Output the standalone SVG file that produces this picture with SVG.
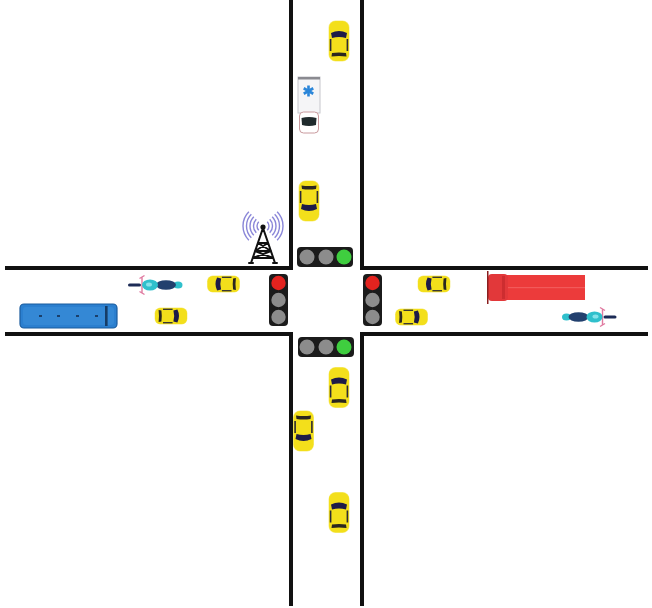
<svg xmlns="http://www.w3.org/2000/svg" width="652" height="608" viewBox="0 0 652 608">
  <style>
    .curb { fill: none; stroke: #111; stroke-width: 4; }
    .housing { fill: #1b1b1b; }
    .off { fill: #8c8c8c; }
    .red { fill: #e3231f; }
    .green { fill: #3fce3f; }
    .wave { fill: none; stroke: #8a86d8; stroke-width: 1.4; }
    .mast { fill: none; stroke: #111; stroke-width: 2; stroke-linecap: round; }
  </style>
  <defs>
    <!-- taxi seen from above, nose pointing up, 20 x 40 -->
    <g id="taxi">
      <rect x="-10.5" y="-20.5" width="21" height="41" rx="7" fill="#f7ee8c"/>
      <rect x="-10" y="-20" width="20" height="40" rx="6.5" fill="#f3df1b"/>
      <path d="M-8,-8 Q0,-12 8,-8 L7,-3 Q0,-5 -7,-3 Z" fill="#1d1b48"/>
      <rect x="-9.2" y="-2" width="1.6" height="12" fill="#2b2a36"/>
      <rect x="7.6" y="-2" width="1.6" height="12" fill="#2b2a36"/>
      <path d="M-7,12 Q0,11 7,12 L7.5,15.5 Q0,14.5 -7.5,15.5 Z" fill="#2a2620"/>
    </g>
    <!-- motorcycle seen from above, front pointing right -->
    <g id="moto">
      <rect x="14" y="-1.6" width="13" height="3.2" rx="1.6" fill="#1c2b56"/>
      <path d="M13,-8 L13,8 M10.5,-9.5 L15.5,-6.5 M10.5,9.5 L15.5,6.5" stroke="#e07aa0" stroke-width="1.4" fill="none"/>
      <ellipse cx="-23" cy="0" rx="4.5" ry="3.5" fill="#2fc0cc"/>
      <ellipse cx="-11" cy="0" rx="10" ry="4.8" fill="#22406e"/>
      <ellipse cx="5" cy="0" rx="8" ry="5.5" fill="#2fc0cc"/>
      <ellipse cx="6" cy="-0.5" rx="3" ry="2" fill="#86e2ea"/>
    </g>
  </defs>

  <rect width="652" height="608" fill="#ffffff"/>

  <!-- road edges of the crossing -->
  <g id="roads">
    <path class="curb" d="M291,0 V268 H5"/>
    <path class="curb" d="M362,0 V268 H648"/>
    <path class="curb" d="M5,334 H291 V606"/>
    <path class="curb" d="M648,334 H362 V606"/>
  </g>

  <!-- radio mast at the corner -->
  <g id="tower">
    <path class="wave" d="M267.24,221.76 A6 6 0 0 1 267.24,230.24 M269.72,219.28 A9.5 9.5 0 0 1 269.72,232.72 M272.19,216.81 A13 13 0 0 1 272.19,235.19 M274.67,214.33 A16.5 16.5 0 0 1 274.67,237.67 M277.14,211.86 A20 20 0 0 1 277.14,240.14"/>
    <path class="wave" d="M258.76,221.76 A6 6 0 0 0 258.76,230.24 M256.28,219.28 A9.5 9.5 0 0 0 256.28,232.72 M253.81,216.81 A13 13 0 0 0 253.81,235.19 M251.33,214.33 A16.5 16.5 0 0 0 251.33,237.67 M248.86,211.86 A20 20 0 0 0 248.86,240.14"/>
    <path class="mast" d="M263,228 L251,263 M263,228 L275,263 M258,243 H268 M255,251 H271 M253,258 H273 M258,243 L271,251 M268,243 L255,251 M255,251 L273,258 M271,251 L253,258 M249,263 H253 M273,263 H277"/>
    <circle cx="263" cy="227" r="2.6" fill="#111"/>
  </g>

  <!-- signal heads -->
  <g id="signal-north">
    <rect class="housing" x="297" y="247" width="56" height="20" rx="4"/>
    <circle class="off" cx="307" cy="257" r="7.5"/>
    <circle class="off" cx="326" cy="257" r="7.5"/>
    <circle class="green" cx="344" cy="257" r="7.5"/>
  </g>
  <g id="signal-south">
    <rect class="housing" x="298" y="337" width="56" height="20" rx="4"/>
    <circle class="off" cx="307" cy="347" r="7.5"/>
    <circle class="off" cx="326" cy="347" r="7.5"/>
    <circle class="green" cx="344" cy="347" r="7.5"/>
  </g>
  <g id="signal-west">
    <rect class="housing" x="269" y="274" width="19" height="52" rx="4"/>
    <circle class="red" cx="278.5" cy="283" r="7.2"/>
    <circle class="off" cx="278.5" cy="300" r="7.2"/>
    <circle class="off" cx="278.5" cy="317" r="7.2"/>
  </g>
  <g id="signal-east">
    <rect class="housing" x="363" y="274" width="19" height="52" rx="4"/>
    <circle class="red" cx="372.5" cy="283" r="7.2"/>
    <circle class="off" cx="372.5" cy="300" r="7.2"/>
    <circle class="off" cx="372.5" cy="317" r="7.2"/>
  </g>

  <!-- vehicles -->
  <g id="vehicles">
    <use id="car-n1" href="#taxi" transform="translate(339,41)"/>
    <g id="ambulance">
      <rect x="298" y="77" width="22" height="36" fill="#f5f5f7" stroke="#c6c6cc" stroke-width="1"/>
      <rect x="298" y="77" width="22" height="2.5" fill="#8a8a90"/>
      <g transform="translate(308.5,91)" fill="#2b86d9">
        <rect x="-1.3" y="-5.5" width="2.6" height="11"/>
        <rect x="-1.3" y="-5.5" width="2.6" height="11" transform="rotate(60)"/>
        <rect x="-1.3" y="-5.5" width="2.6" height="11" transform="rotate(120)"/>
      </g>
      <rect x="299.5" y="112" width="19" height="21" rx="4" fill="#ffffff" stroke="#c99a9e" stroke-width="1"/>
      <path d="M301.5,118 Q309,116 316.5,118 L316,125 Q309,127 302,125 Z" fill="#1f2a2c"/>
    </g>
    <use id="car-n2" href="#taxi" transform="translate(309,201) rotate(180)"/>

    <use id="car-w1" href="#taxi" transform="translate(223.5,284) rotate(-90) scale(0.8)"/>
    <use id="car-w2" href="#taxi" transform="translate(171,316) rotate(90) scale(0.8)"/>
    <g id="bus">
      <rect x="20" y="304" width="97" height="24" rx="4" fill="#2b7fcf" stroke="#1b5c9e" stroke-width="1.2"/>
      <rect x="23" y="307" width="91" height="18" rx="3" fill="#3a8ed8" opacity="0.6"/>
      <g fill="#1b3f6a">
        <rect x="39" y="315" width="3" height="2"/>
        <rect x="57" y="315" width="3" height="2"/>
        <rect x="76" y="315" width="3" height="2"/>
        <rect x="95" y="315" width="3" height="2"/>
      </g>
      <rect x="105" y="306" width="2.6" height="20" fill="#163c66"/>
    </g>
    <use id="moto-w" href="#moto" transform="translate(155,285) scale(-1,1)"/>

    <use id="car-e1" href="#taxi" transform="translate(434,284) rotate(-90) scale(0.8)"/>
    <use id="car-e2" href="#taxi" transform="translate(411.5,317) rotate(90) scale(0.8)"/>
    <g id="truck">
      <rect x="507" y="275" width="78" height="25" fill="#ec3b3b"/>
      <rect x="507" y="287" width="78" height="1.2" fill="#f25a5a"/>
      <rect x="488" y="274" width="20" height="27" rx="4" fill="#e2383a"/>
      <rect x="502" y="276" width="3" height="23" fill="#c52a2c" opacity="0.7"/>
      <rect x="487" y="271" width="1.5" height="33" fill="#8a1f1f"/>
    </g>
    <use id="moto-e" href="#moto" transform="translate(589.5,317)"/>

    <use id="car-s1" href="#taxi" transform="translate(339,387.5)"/>
    <use id="car-s2" href="#taxi" transform="translate(303.5,431) rotate(180)"/>
    <use id="car-s3" href="#taxi" transform="translate(339,512.5)"/>
  </g>
</svg>
